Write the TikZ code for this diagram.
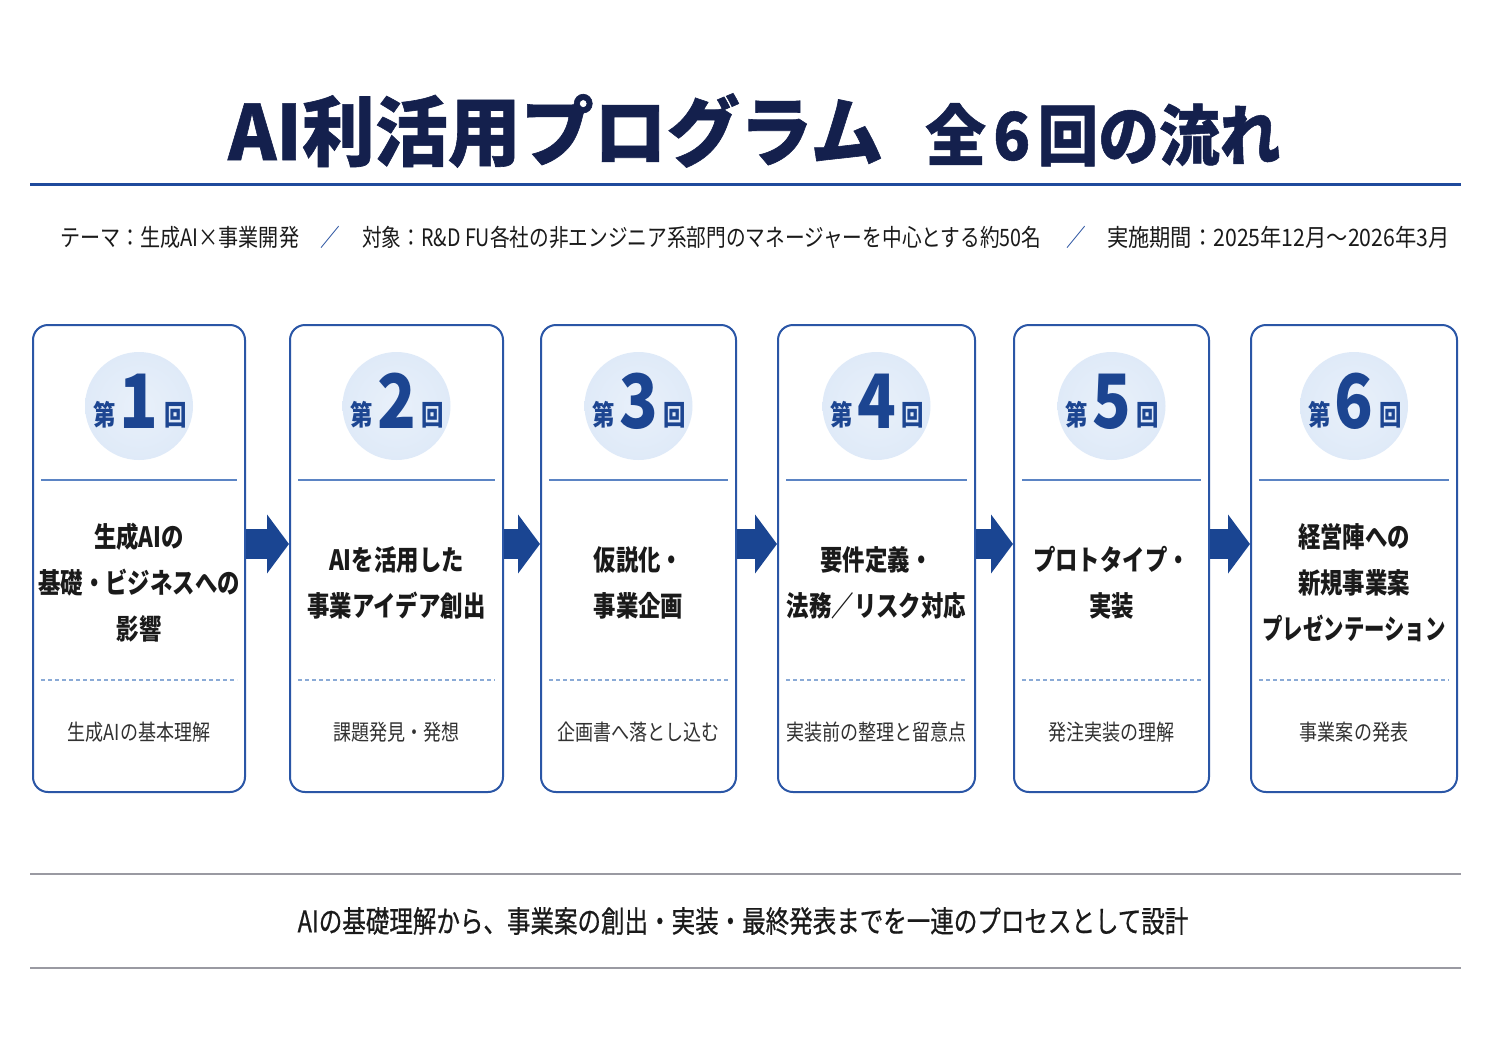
\documentclass[tikz,border=0pt]{standalone}
\usepackage{fontspec}
\setmainfont{Noto Sans CJK JP}
\newfontfamily\cnd{Noto Sans CJK JP}[FakeStretch=0.82]
\newfontfamily\hdf{Noto Sans CJK JP}[FakeStretch=0.8]
\newfontfamily\ftf{Noto Sans CJK JP}[FakeStretch=0.8, FakeBold=0.6]
\newfontfamily\ttlf{Noto Sans CJK JP}[FakeBold=0.8]
\newfontfamily\numf{Noto Sans CJK JP}[FakeStretch=0.85]
\usetikzlibrary{arrows.meta}
\definecolor{navy}{HTML}{14204D}
\definecolor{rulec}{HTML}{1F4A9C}
\definecolor{boxc}{HTML}{2A56A6}
\definecolor{circc}{HTML}{DFEAF8}
\definecolor{numc}{HTML}{1C4591}
\definecolor{arrc}{HTML}{1A4592}
\definecolor{linec}{HTML}{5B84C4}
\definecolor{dashc}{HTML}{8AAAD6}
\definecolor{txtc}{HTML}{1A1A1A}
\definecolor{grayc}{HTML}{9A9AA2}
\tikzset{
  box/.style={draw=boxc, line width=2pt, rounded corners=15pt, fill=white, inner sep=0pt},
  circ/.style={circle, inner color=white!30!circc, outer color=circc, minimum size=108pt, inner sep=0pt},
  head/.style={align=center, text=txtc, font=\hdf\bfseries\fontsize{28}{46}\selectfont, inner sep=0pt},
  lab/.style={text=txtc!90, font=\cnd\fontsize{22}{26}\selectfont, inner sep=0pt},
  small/.style={text=numc, font=\hdf\bfseries\fontsize{28}{30}\selectfont, inner sep=0pt},
  bignum/.style={text=numc, font=\numf\bfseries\fontsize{75}{80}\selectfont, inner sep=0pt},
  sub/.style={text=txtc, font=\cnd\fontsize{24}{28}\selectfont, inner sep=0pt, anchor=west},
  slash/.style={text=rulec, font=\cnd\fontsize{24}{28}\selectfont, inner sep=0pt},
  flow/.style={arrc, line width=30pt, -{Triangle[length=22pt,width=58pt]}},
  solidsep/.style={linec, line width=1.5pt},
  dashsep/.style={dashc, line width=1.5pt, dash pattern=on 4pt off 3pt},
}
\begin{document}
\begin{tikzpicture}[x=1pt, y=-1pt]
\useasboundingbox[fill=white] (0,0) rectangle (1491,1055);
% title
\node[anchor=base west, inner sep=0, text=navy] (t1) at (228,160) {\scalebox{0.96}[1]{\ttlf\fontsize{76}{80}\selectfont\bfseries AI利活用プログラム}};
\node[anchor=base west, inner sep=0, text=navy] (t2) at (925,160) {\scalebox{0.92}[1]{\ttlf\fontsize{66}{70}\selectfont\bfseries 全\hspace{8pt}6\hspace{8pt}回の流れ}};
\coordinate (rl) at (30,184);
\coordinate (rr) at (1461,184);
\draw[rulec, line width=3pt] (rl) -- (rr);
% subtitle
\node[sub] (s1) at (60,237) {\scalebox{1.02}[1]{テーマ：生成AI×事業開発}};
\node[slash] (sl1) at (330,237) {／};
\node[sub] (s2) at (362,237) {対象：R\&D FU各社の非エンジニア系部門のマネージャーを中心とする約50名};
\node[slash] (sl2) at (1076,237) {／};
\node[sub] (s3) at (1107,237) {\scalebox{1.08}[1]{実施期間：2025年12月〜2026年3月}};
\coordinate (y480) at (0,480);
\coordinate (y680) at (0,680);
% boxes
\foreach \i/\cx/\w/\hd/\lb in {
  1/139/212/{生成AIの\\基礎・ビジネスへの\\影響}/{生成AIの基本理解},
  2/396.5/213/{AIを活用した\\事業アイデア創出}/{課題発見・発想},
  3/638.5/195/{仮説化・\\事業企画}/{企画書へ落とし込む},
  4/876.5/197/{要件定義・\\法務／リスク対応}/{実装前の整理と留意点},
  5/1111.5/195/{プロトタイプ・\\実装}/{発注実装の理解},
  6/1354/206/{経営陣への\\新規事業案\\\scalebox{0.91}[1]{プレゼンテーション}}/{事業案の発表}}{
  \node[box, minimum width=\w pt, minimum height=467pt] (b\i) at (\cx,558.5) {};
  \node[circ] (c\i) at (\cx,406) {};
  \node[bignum, anchor=base] (n\i) at (\cx,428) {\i};
  \node[small, anchor=base east] (d\i) at (\cx-23,425) {第};
  \node[small, anchor=base west] (k\i) at (\cx+25,425) {回};
  \draw[solidsep] ([xshift=9pt]b\i.west |- y480) -- ([xshift=-9pt]b\i.east |- y480);
  \draw[dashsep] ([xshift=9pt]b\i.west |- y680) -- ([xshift=-9pt]b\i.east |- y680);
  \node[head] (h\i) at (\cx,583) {\hd};
  \node[lab] (l\i) at (\cx,732) {\lb};
}
% arrows
\foreach \a/\b in {1/2,2/3,3/4,4/5,5/6}{
  \draw[flow] ([yshift=14.5pt]b\a.east) -- ([yshift=14.5pt]b\b.west);
}
% footer
\coordinate (f1l) at (30,874);
\coordinate (f1r) at (1461,874);
\coordinate (f2l) at (30,968);
\coordinate (f2r) at (1461,968);
\draw[grayc, line width=2pt] (f1l) -- (f1r);
\draw[grayc, line width=2pt] (f2l) -- (f2r);
\node[text=txtc, font=\ftf\fontsize{30}{34}\selectfont, inner sep=0pt] (ft) at (743,921) {\scalebox{0.98}[1]{AIの基礎理解から、事業案の創出・実装・最終発表までを一連のプロセスとして設計}};
\end{tikzpicture}
\end{document}
